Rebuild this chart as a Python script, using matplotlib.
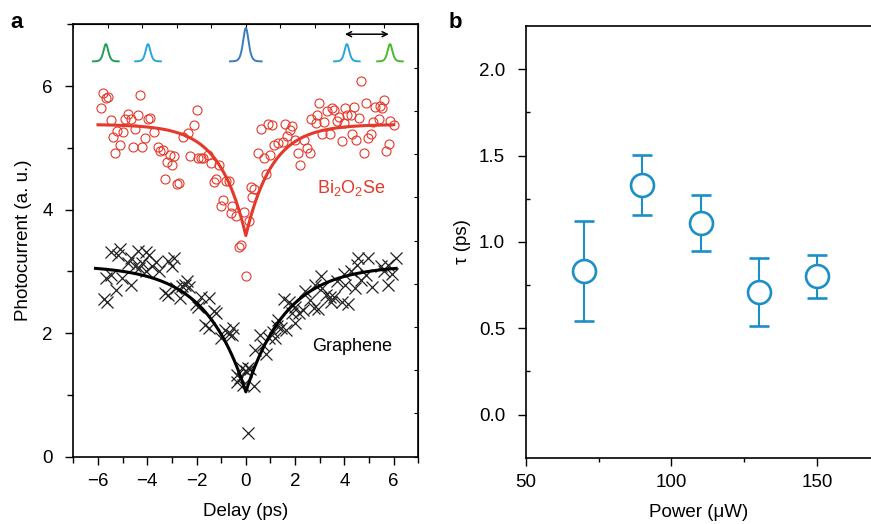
import numpy as np
import matplotlib
matplotlib.use("Agg")
import matplotlib.pyplot as plt

plt.rcParams['font.family'] = ['Liberation Sans', 'DejaVu Sans']
plt.rcParams['mathtext.fontset'] = 'custom'
plt.rcParams['mathtext.rm'] = 'Liberation Sans'
plt.rcParams['mathtext.it'] = 'Liberation Sans:italic'
plt.rcParams['mathtext.bf'] = 'Liberation Sans:bold'

# ---------------- Panel a data ----------------
bi_delay = [-5.78, -5.69, -5.58, -5.88, -4.30, -5.47, -4.91, -4.80, -4.66, -4.39,
            -3.96, -3.88, -5.24, -5.00, -5.38, -4.50, -4.09, -3.74, -5.09, -5.29,
            -4.59, -4.20, -3.58, -3.47, -3.36, -3.09, -2.91, -3.18, -2.99, -3.28,
            -2.81, -2.72, -2.00, -2.09, -2.36, -2.55, -2.28, -1.93, -1.82, -1.72,
            -1.55, -1.42, -1.09, -1.20, -1.28, -0.82, -0.69, -0.91, -1.01, -0.55,
            -0.61, -0.38, -0.09, -0.28, -0.18, 0.01,
            4.67, 2.97, 3.51, 3.59, 3.30, 4.03, 4.38, 4.89, 5.24, 5.43,
            5.59, 5.54, 2.65, 2.84, 3.19, 2.89, 3.70, 3.78, 4.11, 4.27,
            4.59, 4.00, 5.16, 5.40, 5.86, 6.00, 0.62, 0.89, 1.08, 1.57,
            1.86, 1.78, 3.08, 3.43, 4.32, 3.89, 4.49, 4.97, 5.08, 5.81,
            5.70, 4.78, 1.68, 1.51, 1.32, 1.16, 2.00, 2.38, 2.49, 2.59,
            2.11, 2.19, 0.51, 0.73, 1.00, 0.81, 0.22, 0.32, 0.27, 0.14]
bi_current = [5.89, 5.80, 5.82, 5.65, 5.86, 5.45, 5.46, 5.55, 5.46, 5.54,
              5.46, 5.49, 5.28, 5.25, 5.18, 5.30, 5.16, 5.26, 5.04, 4.91,
              5.01, 5.01, 5.01, 4.95, 4.96, 4.89, 4.87, 4.77, 4.73, 4.49,
              4.41, 4.43, 5.62, 5.37, 5.24, 5.17, 4.87, 4.83, 4.83, 4.84,
              4.89, 4.76, 4.72, 4.49, 4.44, 4.46, 4.46, 4.15, 4.06, 4.06,
              3.94, 3.90, 3.96, 3.40, 3.43, 2.92,
              6.08, 5.73, 5.65, 5.62, 5.59, 5.65, 5.66, 5.73, 5.66, 5.67,
              5.78, 5.65, 5.46, 5.40, 5.42, 5.54, 5.44, 5.50, 5.54, 5.54,
              5.48, 5.40, 5.42, 5.47, 5.43, 5.37, 5.31, 5.38, 5.37, 5.38,
              5.35, 5.29, 5.22, 5.22, 5.23, 5.11, 5.13, 5.16, 5.22, 5.07,
              4.95, 4.91, 5.19, 5.10, 5.08, 5.04, 5.12, 5.12, 5.00, 4.91,
              4.91, 4.73, 4.91, 4.83, 4.89, 4.58, 4.36, 4.34, 4.20, 3.82]

gr_delay = [-5.47, -5.11, -5.20, -4.39, -4.07, -3.93, -4.66, -4.77, -4.50, -4.34,
            -4.23, -3.82, -3.66, -3.15, -2.91, -3.01, -3.53, -4.07, -5.69, -5.47,
            -5.01, -4.66, -5.28, -5.77, -5.63, -3.28, -3.15, -2.69, -2.85, -2.58,
            -2.37, -2.45, -2.31, -2.04, -1.80, -1.50, -1.93, -1.28, -1.20, -1.66,
            -1.50, -0.85, -0.69, -0.51, -0.58, -0.99, -0.34, -0.23, -0.15, -0.01,
            -0.34, -0.12, 0.18, 0.09,
            0.08, 0.32, 0.38, 0.58, 0.81, 0.68, 0.92, 1.12, 1.26, 1.43,
            1.62, 1.53, 1.76, 1.86, 2.00, 2.16, 2.30, 2.40, 2.62, 2.81,
            3.03, 2.92, 3.27, 3.46, 3.59, 3.11, 3.70, 3.97, 4.03, 4.27,
            4.50, 4.68, 4.43, 4.86, 4.97, 5.13, 5.49, 5.62, 5.78, 5.92,
            6.11, 5.78, 4.16, 3.89, 2.76, 2.00, 1.19, 1.32, 4.57, 3.42]
gr_current = [3.31, 3.36, 3.27, 3.33, 3.31, 3.26, 3.21, 3.13, 3.09, 3.06,
              3.13, 3.08, 3.16, 3.17, 3.21, 3.09, 3.01, 3.01, 2.90, 2.94,
              2.90, 2.78, 2.70, 2.55, 2.51, 2.65, 2.62, 2.57, 2.73, 2.77,
              2.85, 2.78, 2.74, 2.48, 2.59, 2.57, 2.43, 2.36, 2.32, 2.14,
              2.09, 2.05, 1.98, 2.08, 1.97, 1.92, 1.32, 1.27, 1.44, 1.38,
              1.21, 1.16, 1.42, 0.38,
              1.43, 1.15, 1.73, 1.97, 1.67, 1.81, 1.92, 2.02, 2.11, 2.08,
              2.05, 2.56, 2.51, 2.32, 2.43, 2.32, 2.38, 2.68, 2.53, 2.78,
              2.92, 2.39, 2.62, 2.51, 2.59, 2.73, 2.84, 2.95, 2.78, 3.00,
              3.10, 2.86, 2.73, 2.94, 3.21, 2.75, 3.08, 3.01, 3.10, 2.95,
              3.21, 2.78, 2.48, 2.51, 2.40, 2.16, 1.92, 2.21, 3.21, 2.59]

# fit parameters: baseline, dip depth, decay time (ps)
bi_fit = (5.38, 1.80, 1.07)
gr_fit = (3.10, 2.05, 1.65)

# pump/probe pulse sketches: centre, height, width, colour
pulse_center = [-5.68, -3.97, 0.0, 4.10, 5.85]
pulse_height = [0.28, 0.28, 0.54, 0.28, 0.28]
pulse_width = [0.13, 0.13, 0.15, 0.13, 0.13]
pulse_color = ['#1f9e55', '#27a7da', '#3a7cc2', '#27a7da', '#4cb830']

# ---------------- Panel b data ----------------
power = [70, 90, 110, 130, 150]
tau = [0.83, 1.33, 1.11, 0.71, 0.80]
tau_err = [0.29, 0.172, 0.164, 0.198, 0.124]

red = '#e4392b'
blue_b = '#1b8fc6'

fig = plt.figure(figsize=(8.71, 5.24), dpi=100)

# ---------------- Panel a ----------------
ax = fig.add_axes([0.0842, 0.1284, 0.3961, 0.8252])
ax.plot(bi_delay, bi_current, linestyle='none', marker='o', markersize=6.5,
        markerfacecolor='none', markeredgecolor=red, markeredgewidth=0.8)
ax.plot(gr_delay, gr_current, linestyle='none', marker='x', markersize=8,
        color='#222222', markeredgewidth=0.9)

t = np.linspace(-6.0, 6.0, 601)
A, B, T = bi_fit
ax.plot(t, A - B * np.exp(-np.abs(t) / T), color=red, lw=2.2, zorder=3)
t2 = np.linspace(-6.1, 6.1, 611)
A, B, T = gr_fit
ax.plot(t2, A - B * np.exp(-np.abs(t2) / T), color='black', lw=2.2, zorder=3)

for c, h, w, col in zip(pulse_center, pulse_height, pulse_width, pulse_color):
    half = 0.52 if h < 0.4 else 0.64
    xx = np.linspace(c - half, c + half, 200)
    ax.plot(xx, 6.40 + h / np.cosh((xx - c) / w) ** 2, color=col, lw=1.4)

ax.annotate('', xy=(5.80, 6.84), xytext=(4.02, 6.84),
            arrowprops=dict(arrowstyle='<->', color='black', lw=1.1,
                            mutation_scale=9, shrinkA=0, shrinkB=0))

ax.text(4.27, 4.35, 'Bi$_2$O$_2$Se', color=red, fontsize=13,
        ha='center', va='center')
ax.text(4.32, 1.78, 'Graphene', color='black', fontsize=13,
        ha='center', va='center')

ax.set_xlim(-7, 7)
ax.set_ylim(0, 7)
ax.set_xticks(range(-6, 7, 2))
ax.set_xticks(range(-7, 8), minor=True)
ax.set_yticks(range(0, 7, 2))
ax.set_yticks(range(0, 8), minor=True)
ax.set_xticklabels(['\u22126', '\u22124', '\u22122', '0', '2', '4', '6'])
ax.tick_params(axis='both', which='major', direction='out', length=6,
               width=1, labelsize=13.5, pad=6, top=False, right=False)
ax.tick_params(axis='both', which='minor', direction='out', length=4,
               width=1, top=False, right=False)
ax.tick_params(axis='y', which='major', pad=9)
ax.set_xlabel('Delay (ps)', fontsize=13.5, labelpad=9)
ax.set_ylabel('Photocurrent (a. u.)', fontsize=13.5, labelpad=7)
for s in ax.spines.values():
    s.set_linewidth(1.2)

secx = ax.secondary_xaxis('top', functions=(lambda x: (x + 7) / 1.4,
                                            lambda u: u * 1.4 - 7))
secx.set_xticks(np.arange(0, 11))
secx.tick_params(direction='in', length=3, labeltop=False)
secy = ax.secondary_yaxis('right', functions=(lambda y: y / 0.7,
                                              lambda u: u * 0.7))
secy.set_yticks(np.arange(0, 11))
secy.tick_params(direction='in', length=3, labelright=False)

fig.text(0.012, 0.958, 'a', fontsize=16, fontweight='bold', va='center')

# ---------------- Panel b ----------------
bx = fig.add_axes([0.6039, 0.1265, 0.3961, 0.8239])
bx.errorbar(power, tau, yerr=tau_err, linestyle='none', marker='o',
            markersize=16.5, markerfacecolor='white', markeredgecolor=blue_b,
            markeredgewidth=1.9, ecolor=blue_b, elinewidth=1.5, capsize=7.5,
            capthick=1.5)
bx.set_xlim(50, 168.6)
bx.set_ylim(-0.25, 2.25)
bx.set_xticks([50, 100, 150])
bx.set_xticks([75, 125], minor=True)
bx.set_yticks([0.0, 0.5, 1.0, 1.5, 2.0])
bx.set_yticks([0.25, 0.75, 1.25, 1.75], minor=True)
bx.set_yticklabels(['0.0', '0.5', '1.0', '1.5', '2.0'])
bx.tick_params(axis='both', which='major', direction='out', length=6,
               width=1, labelsize=13.5, pad=6, top=False, right=False)
bx.tick_params(axis='y', which='major', pad=9)
bx.tick_params(axis='x', which='minor', direction='out', length=3, width=1)
bx.tick_params(axis='y', which='minor', direction='in', length=3, width=1)
bx.spines['right'].set_visible(False)
for s in bx.spines.values():
    s.set_linewidth(1.2)
bx.set_xlabel('Power (\u03bcW)', fontsize=13.5, labelpad=9)
bx.set_ylabel('\u03c4 (ps)', fontsize=13.5, labelpad=6)

fig.text(0.515, 0.958, 'b', fontsize=16, fontweight='bold', va='center')

fig.savefig('out.png', dpi=100)
